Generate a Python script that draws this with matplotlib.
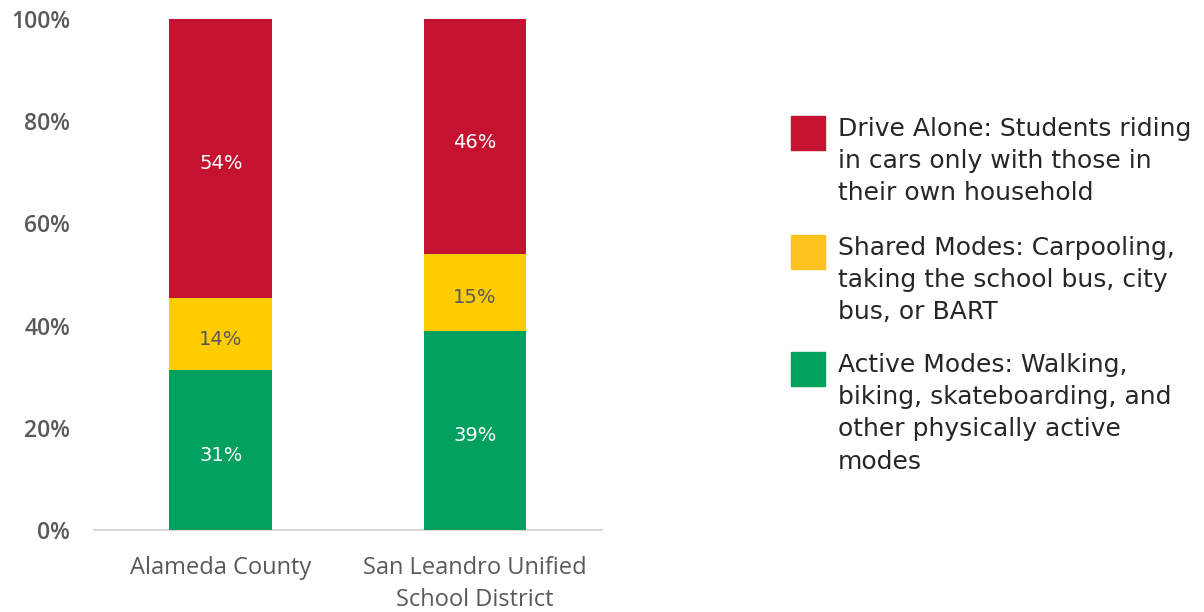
import matplotlib
matplotlib.use("Agg")
import matplotlib.pyplot as plt
import numpy as np
from matplotlib.patches import Rectangle

# data
categories = ["Alameda County", "San Leandro Unified\nSchool District"]
active = [31, 39]
shared = [14, 15]
drive = [54, 46]

series_names = [
    "Drive Alone: Students riding\nin cars only with those in\ntheir own household",
    "Shared Modes: Carpooling,\ntaking the school bus, city\nbus, or BART",
    "Active Modes: Walking,\nbiking, skateboarding, and\nother physically active\nmodes",
]
bar_colors = {"active": "#00A05F", "shared": "#FFCC00", "drive": "#C41230"}
legend_colors = ["#C41230", "#FCC31F", "#00A05F"]
label_colors = {"active": "white", "shared": "#595959", "drive": "white"}

plt.rcParams["font.family"] = ["Open Sans", "DejaVu Sans"]

fig = plt.figure(figsize=(12.04, 6.12), dpi=100)
ax = fig.add_axes([0.078, 0.134, 0.422, 0.835])

x = np.arange(len(categories))
totals = np.array(active) + np.array(shared) + np.array(drive)
bottom = np.zeros(len(categories))
for key, vals in [("active", active), ("shared", shared), ("drive", drive)]:
    pct = np.array(vals) / totals
    ax.bar(x, pct, 0.405, bottom=bottom, color=bar_colors[key], zorder=3)
    for xi, b, p, v in zip(x, bottom, pct, vals):
        ax.annotate(f"{v}%", (xi, b + p / 2), xytext=(0, -4), textcoords="offset points",
                    ha="center", va="center", fontsize=14, family="DejaVu Sans",
                    color=label_colors[key], zorder=4)
    bottom += pct

ax.set_xlim(-0.5, 1.5)
ax.set_ylim(0, 1)
ticks = np.arange(0, 1.01, 0.2)
ax.set_yticks(ticks)
ax.set_yticklabels([f"{int(round(t * 100))}%" for t in ticks])
ax.set_xticks(x)
ax.set_xticklabels(categories, linespacing=1.4)
ax.tick_params(axis="y", length=0, pad=17, labelsize=16.5, labelcolor="#595959")
ax.tick_params(axis="x", length=0, pad=19, labelsize=17, labelcolor="#595959")
for lab in ax.get_yticklabels():
    lab.set_fontweight("semibold")
for s in ["top", "right", "left"]:
    ax.spines[s].set_visible(False)
ax.spines["bottom"].set_color("#D9D9D9")
ax.spines["bottom"].set_linewidth(1.5)

# legend drawn by hand
W, H = 1204, 612
sq_tops = [116, 235, 352]
for name, col, top in zip(series_names, legend_colors, sq_tops):
    fig.patches.append(Rectangle((791 / W, 1 - (top + 34) / H), 34 / W, 34 / H,
                                 transform=fig.transFigure, color=col))
    fig.text(838 / W, 1 - (top + 1) / H, name, ha="left", va="top",
             fontsize=18, family="DejaVu Sans", color="#262626", linespacing=1.43)

fig.savefig("out.png", dpi=100)
